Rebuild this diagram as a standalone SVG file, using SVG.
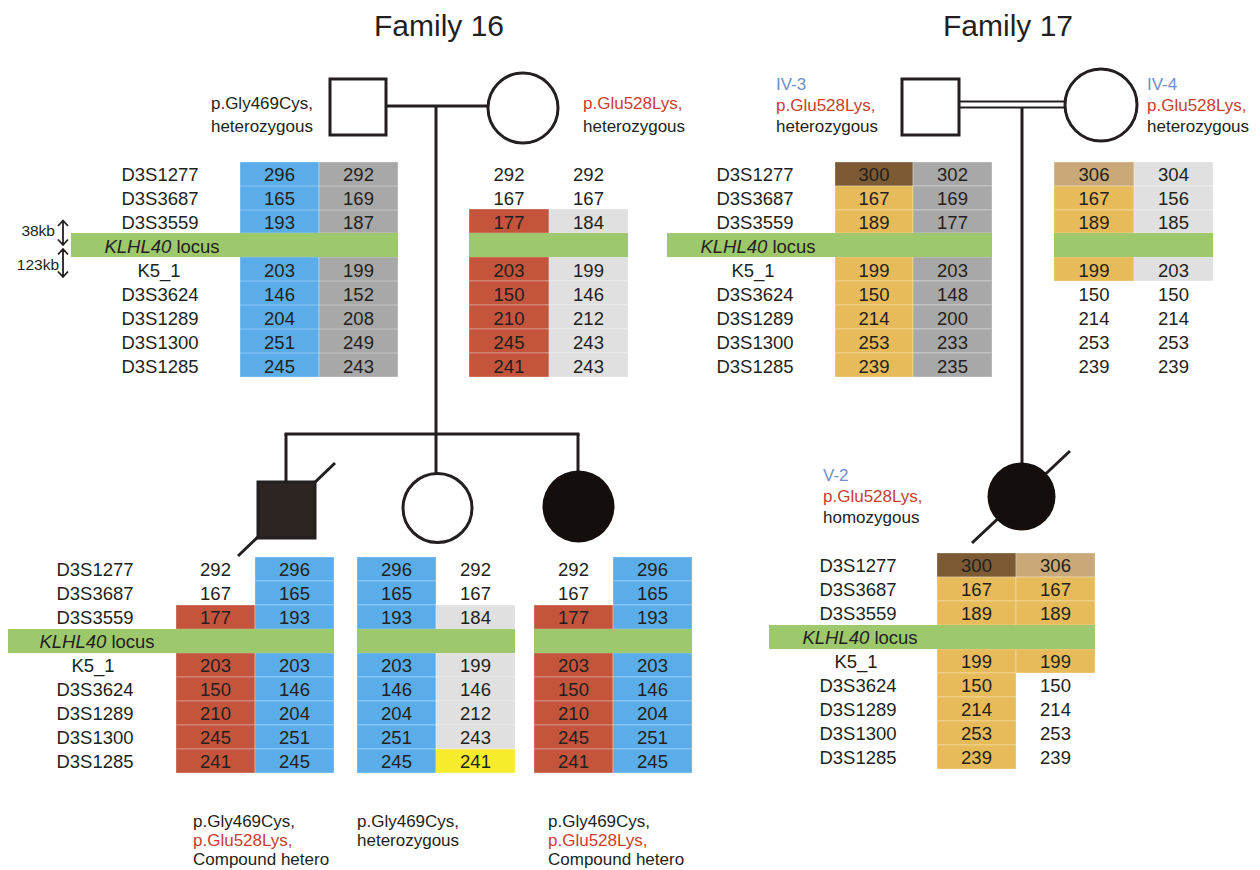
<svg xmlns="http://www.w3.org/2000/svg" width="1260" height="870" viewBox="0 0 1260 870">
<style>
text{font-family:"Liberation Sans",Arial,sans-serif;fill:#231f20}
.t{font-size:30px;text-anchor:middle}
.a{font-size:17px}
.r{fill:#c8402f}
.b{fill:#6f8fc8}
.lb{font-size:18.5px;text-anchor:middle}
.v{font-size:18.5px;text-anchor:middle}
.kb{font-size:15.5px;text-anchor:end}
.B{fill:#5badea}.G{fill:#a8a8a8}.L{fill:#e0e0e0}.R{fill:#c4543c}.Y{fill:#e8bb5a}.D{fill:#7b5a34}.T{fill:#c8a977}.W{fill:#f7ec2c}
.g{fill:#9ec86c}
rect.c{stroke:#ffffff;stroke-opacity:.3;stroke-width:1}
.ln{stroke:#231f20;stroke-width:3;fill:none}
.sym{stroke:#231f20;stroke-width:3}
.ar{stroke:#231f20;stroke-width:1.8;fill:none}
</style>

<text class="t" x="439" y="36">Family 16</text>
<text class="t" x="1008" y="36">Family 17</text>

<g id="connectors">
<line class="ln" x1="386" y1="106" x2="488" y2="106"/>
<line class="ln" x1="436" y1="106" x2="436" y2="434"/>
<line class="ln" x1="284.5" y1="434" x2="579.5" y2="434"/>
<line class="ln" x1="286" y1="434" x2="286" y2="482"/>
<line class="ln" x1="436" y1="434" x2="436" y2="473"/>
<line class="ln" x1="578" y1="434" x2="578" y2="472"/>
<line stroke="#231f20" stroke-width="2.2" x1="959" y1="101.5" x2="1066" y2="101.5"/>
<line stroke="#231f20" stroke-width="2.2" x1="959" y1="107.5" x2="1066" y2="107.5"/>
<line class="ln" x1="1022" y1="107" x2="1022" y2="464"/>
</g>

<g id="f16-father">
<rect class="sym" x="330" y="79" width="56" height="56" fill="#fff"/>
<text class="a" x="313" y="109" text-anchor="end">p.Gly469Cys,</text>
<text class="a" x="313" y="132" text-anchor="end">heterozygous</text>
</g>
<g id="f16-mother">
<circle class="sym" cx="523" cy="108" r="35" fill="#fff"/>
<text class="a r" x="583" y="109">p.Glu528Lys,</text>
<text class="a" x="583" y="132">heterozygous</text>
</g>
<g id="f16-son">
<line class="ln" x1="238" y1="556" x2="335" y2="463"/>
<rect class="sym" x="258" y="482" width="57" height="56" fill="#2d2521"/>
</g>
<g id="f16-daughter">
<circle class="sym" cx="437.5" cy="508" r="34.5" fill="#fff"/>
</g>
<g id="f16-affected-daughter">
<circle cx="578.5" cy="506.5" r="36" fill="#140f0d"/>
</g>
<g id="f17-father">
<rect class="sym" x="902" y="79" width="57" height="56" fill="#fff"/>
<text class="a b" x="776" y="90">IV-3</text>
<text class="a r" x="776" y="111">p.Glu528Lys,</text>
<text class="a" x="776" y="132">heterozygous</text>
</g>
<g id="f17-mother">
<circle class="sym" cx="1101" cy="105" r="36" fill="#fff"/>
<text class="a b" x="1147" y="90">IV-4</text>
<text class="a r" x="1147" y="111">p.Glu528Lys,</text>
<text class="a" x="1147" y="132">heterozygous</text>
</g>
<g id="f17-child">
<line class="ln" x1="972" y1="543" x2="1070" y2="451"/>
<circle cx="1021.5" cy="496.5" r="34" fill="#140f0d"/>
<text class="a b" x="823" y="481">V-2</text>
<text class="a r" x="823" y="502">p.Glu528Lys,</text>
<text class="a" x="823" y="523">homozygous</text>
</g>

<g id="distances">
<text class="kb" x="55" y="236">38kb</text>
<text class="kb" x="59" y="270">123kb</text>
<path class="ar" d="M63,221 V245 M58,226 L63,220.5 L68,226 M58,239.5 L63,245 L68,239.5"/>
<path class="ar" d="M63,249 V277 M58,254.5 L63,249 L68,254.5 M58,271.5 L63,277 L68,271.5"/>
</g>

<g id="t-f16-father">
<rect class="c B" x="240" y="162" width="79" height="71"/><rect class="c G" x="319" y="162" width="79" height="71"/>
<rect class="c B" x="240" y="257" width="79" height="120"/><rect class="c G" x="319" y="257" width="79" height="120"/>
<line x1="240" x2="398" y1="186" y2="186" stroke="#fff" stroke-opacity=".3"/><line x1="240" x2="398" y1="210" y2="210" stroke="#fff" stroke-opacity=".3"/>
<line x1="240" x2="398" y1="281" y2="281" stroke="#fff" stroke-opacity=".3"/><line x1="240" x2="398" y1="305" y2="305" stroke="#fff" stroke-opacity=".3"/><line x1="240" x2="398" y1="329" y2="329" stroke="#fff" stroke-opacity=".3"/><line x1="240" x2="398" y1="353" y2="353" stroke="#fff" stroke-opacity=".3"/>
<rect class="g" x="71" y="233" width="327" height="24"/>
<text class="lb" x="160" y="180.5">D3S1277</text><text class="lb" x="160" y="204.5">D3S3687</text><text class="lb" x="160" y="228.5">D3S3559</text>
<text class="lb" x="162" y="252.5"><tspan font-style="italic">KLHL40</tspan> locus</text>
<text class="lb" x="159" y="276.5">K5_1</text><text class="lb" x="160" y="300.5">D3S3624</text><text class="lb" x="160" y="324.5">D3S1289</text><text class="lb" x="160" y="348.5">D3S1300</text><text class="lb" x="160" y="372.5">D3S1285</text>
<text class="v" x="279.5" y="180.5">296</text><text class="v" x="358.5" y="180.5">292</text>
<text class="v" x="279.5" y="204.5">165</text><text class="v" x="358.5" y="204.5">169</text>
<text class="v" x="279.5" y="228.5">193</text><text class="v" x="358.5" y="228.5">187</text>
<text class="v" x="279.5" y="276.5">203</text><text class="v" x="358.5" y="276.5">199</text>
<text class="v" x="279.5" y="300.5">146</text><text class="v" x="358.5" y="300.5">152</text>
<text class="v" x="279.5" y="324.5">204</text><text class="v" x="358.5" y="324.5">208</text>
<text class="v" x="279.5" y="348.5">251</text><text class="v" x="358.5" y="348.5">249</text>
<text class="v" x="279.5" y="372.5">245</text><text class="v" x="358.5" y="372.5">243</text>
</g>

<g id="t-f16-mother">
<rect class="c R" x="469" y="209" width="80" height="24"/><rect class="c L" x="549" y="209" width="79" height="24"/>
<rect class="c R" x="469" y="257" width="80" height="24"/><rect class="c L" x="549" y="257" width="79" height="24"/>
<rect class="c R" x="469" y="281" width="80" height="24"/><rect class="c L" x="549" y="281" width="79" height="24"/>
<rect class="c R" x="469" y="305" width="80" height="24"/><rect class="c L" x="549" y="305" width="79" height="24"/>
<rect class="c R" x="469" y="329" width="80" height="24"/><rect class="c L" x="549" y="329" width="79" height="24"/>
<rect class="c R" x="469" y="353" width="80" height="24"/><rect class="c L" x="549" y="353" width="79" height="24"/>
<rect class="g" x="469" y="233" width="159" height="24"/>
<text class="v" x="509" y="180.5">292</text><text class="v" x="588.5" y="180.5">292</text>
<text class="v" x="509" y="204.5">167</text><text class="v" x="588.5" y="204.5">167</text>
<text class="v" x="509" y="228.5">177</text><text class="v" x="588.5" y="228.5">184</text>
<text class="v" x="509" y="276.5">203</text><text class="v" x="588.5" y="276.5">199</text>
<text class="v" x="509" y="300.5">150</text><text class="v" x="588.5" y="300.5">146</text>
<text class="v" x="509" y="324.5">210</text><text class="v" x="588.5" y="324.5">212</text>
<text class="v" x="509" y="348.5">245</text><text class="v" x="588.5" y="348.5">243</text>
<text class="v" x="509" y="372.5">241</text><text class="v" x="588.5" y="372.5">243</text>
</g>

<g id="t-f17-father">
<rect class="c D" x="835" y="162" width="78" height="24"/><rect class="c G" x="913" y="162" width="79" height="24"/>
<rect class="c Y" x="835" y="186" width="78" height="24"/><rect class="c G" x="913" y="186" width="79" height="24"/>
<rect class="c Y" x="835" y="210" width="78" height="23"/><rect class="c G" x="913" y="210" width="79" height="23"/>
<rect class="c Y" x="835" y="257" width="78" height="24"/><rect class="c G" x="913" y="257" width="79" height="24"/>
<rect class="c Y" x="835" y="281" width="78" height="24"/><rect class="c G" x="913" y="281" width="79" height="24"/>
<rect class="c Y" x="835" y="305" width="78" height="24"/><rect class="c G" x="913" y="305" width="79" height="24"/>
<rect class="c Y" x="835" y="329" width="78" height="24"/><rect class="c G" x="913" y="329" width="79" height="24"/>
<rect class="c Y" x="835" y="353" width="78" height="24"/><rect class="c G" x="913" y="353" width="79" height="24"/>
<rect class="g" x="667" y="233" width="325" height="24"/>
<text class="lb" x="755" y="180.5">D3S1277</text><text class="lb" x="755" y="204.5">D3S3687</text><text class="lb" x="755" y="228.5">D3S3559</text>
<text class="lb" x="758" y="252.5"><tspan font-style="italic">KLHL40</tspan> locus</text>
<text class="lb" x="753" y="276.5">K5_1</text><text class="lb" x="755" y="300.5">D3S3624</text><text class="lb" x="755" y="324.5">D3S1289</text><text class="lb" x="755" y="348.5">D3S1300</text><text class="lb" x="755" y="372.5">D3S1285</text>
<text class="v" x="874" y="180.5">300</text><text class="v" x="952.5" y="180.5">302</text>
<text class="v" x="874" y="204.5">167</text><text class="v" x="952.5" y="204.5">169</text>
<text class="v" x="874" y="228.5">189</text><text class="v" x="952.5" y="228.5">177</text>
<text class="v" x="874" y="276.5">199</text><text class="v" x="952.5" y="276.5">203</text>
<text class="v" x="874" y="300.5">150</text><text class="v" x="952.5" y="300.5">148</text>
<text class="v" x="874" y="324.5">214</text><text class="v" x="952.5" y="324.5">200</text>
<text class="v" x="874" y="348.5">253</text><text class="v" x="952.5" y="348.5">233</text>
<text class="v" x="874" y="372.5">239</text><text class="v" x="952.5" y="372.5">235</text>
</g>

<g id="t-f17-mother">
<rect class="c T" x="1054" y="162" width="80" height="24"/><rect class="c L" x="1134" y="162" width="79" height="24"/>
<rect class="c Y" x="1054" y="186" width="80" height="24"/><rect class="c L" x="1134" y="186" width="79" height="24"/>
<rect class="c Y" x="1054" y="210" width="80" height="23"/><rect class="c L" x="1134" y="210" width="79" height="23"/>
<rect class="c Y" x="1054" y="257" width="80" height="24"/><rect class="c L" x="1134" y="257" width="79" height="24"/>
<rect class="g" x="1054" y="233" width="159" height="24"/>
<text class="v" x="1094" y="180.5">306</text><text class="v" x="1173.5" y="180.5">304</text>
<text class="v" x="1094" y="204.5">167</text><text class="v" x="1173.5" y="204.5">156</text>
<text class="v" x="1094" y="228.5">189</text><text class="v" x="1173.5" y="228.5">185</text>
<text class="v" x="1094" y="276.5">199</text><text class="v" x="1173.5" y="276.5">203</text>
<text class="v" x="1094" y="300.5">150</text><text class="v" x="1173.5" y="300.5">150</text>
<text class="v" x="1094" y="324.5">214</text><text class="v" x="1173.5" y="324.5">214</text>
<text class="v" x="1094" y="348.5">253</text><text class="v" x="1173.5" y="348.5">253</text>
<text class="v" x="1094" y="372.5">239</text><text class="v" x="1173.5" y="372.5">239</text>
</g>

<g id="t-f16-son">
<rect class="c B" x="255" y="557" width="79" height="24"/>
<rect class="c B" x="255" y="581" width="79" height="24"/>
<rect class="c R" x="176" y="605" width="79" height="24"/><rect class="c B" x="255" y="605" width="79" height="24"/>
<rect class="c R" x="176" y="653" width="79" height="24"/><rect class="c B" x="255" y="653" width="79" height="24"/>
<rect class="c R" x="176" y="677" width="79" height="24"/><rect class="c B" x="255" y="677" width="79" height="24"/>
<rect class="c R" x="176" y="701" width="79" height="24"/><rect class="c B" x="255" y="701" width="79" height="24"/>
<rect class="c R" x="176" y="725" width="79" height="24"/><rect class="c B" x="255" y="725" width="79" height="24"/>
<rect class="c R" x="176" y="749" width="79" height="24"/><rect class="c B" x="255" y="749" width="79" height="24"/>
<rect class="g" x="8" y="629" width="326" height="24"/>
<text class="lb" x="95" y="575.5">D3S1277</text><text class="lb" x="95" y="599.5">D3S3687</text><text class="lb" x="95" y="623.5">D3S3559</text>
<text class="lb" x="97" y="647.5"><tspan font-style="italic">KLHL40</tspan> locus</text>
<text class="lb" x="93" y="671.5">K5_1</text><text class="lb" x="95" y="695.5">D3S3624</text><text class="lb" x="95" y="719.5">D3S1289</text><text class="lb" x="95" y="743.5">D3S1300</text><text class="lb" x="95" y="767.5">D3S1285</text>
<text class="v" x="215.5" y="575.5">292</text><text class="v" x="294.5" y="575.5">296</text>
<text class="v" x="215.5" y="599.5">167</text><text class="v" x="294.5" y="599.5">165</text>
<text class="v" x="215.5" y="623.5">177</text><text class="v" x="294.5" y="623.5">193</text>
<text class="v" x="215.5" y="671.5">203</text><text class="v" x="294.5" y="671.5">203</text>
<text class="v" x="215.5" y="695.5">150</text><text class="v" x="294.5" y="695.5">146</text>
<text class="v" x="215.5" y="719.5">210</text><text class="v" x="294.5" y="719.5">204</text>
<text class="v" x="215.5" y="743.5">245</text><text class="v" x="294.5" y="743.5">251</text>
<text class="v" x="215.5" y="767.5">241</text><text class="v" x="294.5" y="767.5">245</text>
</g>

<g id="t-f16-daughter">
<rect class="c B" x="357" y="557" width="79" height="24"/>
<rect class="c B" x="357" y="581" width="79" height="24"/>
<rect class="c B" x="357" y="605" width="79" height="24"/><rect class="c L" x="436" y="605" width="79" height="24"/>
<rect class="c B" x="357" y="653" width="79" height="24"/><rect class="c L" x="436" y="653" width="79" height="24"/>
<rect class="c B" x="357" y="677" width="79" height="24"/><rect class="c L" x="436" y="677" width="79" height="24"/>
<rect class="c B" x="357" y="701" width="79" height="24"/><rect class="c L" x="436" y="701" width="79" height="24"/>
<rect class="c B" x="357" y="725" width="79" height="24"/><rect class="c L" x="436" y="725" width="79" height="24"/>
<rect class="c B" x="357" y="749" width="79" height="24"/><rect class="c W" x="436" y="749" width="79" height="24"/>
<rect class="g" x="357" y="629" width="158" height="24"/>
<text class="v" x="396.5" y="575.5">296</text><text class="v" x="475.5" y="575.5">292</text>
<text class="v" x="396.5" y="599.5">165</text><text class="v" x="475.5" y="599.5">167</text>
<text class="v" x="396.5" y="623.5">193</text><text class="v" x="475.5" y="623.5">184</text>
<text class="v" x="396.5" y="671.5">203</text><text class="v" x="475.5" y="671.5">199</text>
<text class="v" x="396.5" y="695.5">146</text><text class="v" x="475.5" y="695.5">146</text>
<text class="v" x="396.5" y="719.5">204</text><text class="v" x="475.5" y="719.5">212</text>
<text class="v" x="396.5" y="743.5">251</text><text class="v" x="475.5" y="743.5">243</text>
<text class="v" x="396.5" y="767.5">245</text><text class="v" x="475.5" y="767.5">241</text>
</g>

<g id="t-f16-affected">
<rect class="c B" x="613" y="557" width="79" height="24"/>
<rect class="c B" x="613" y="581" width="79" height="24"/>
<rect class="c R" x="534" y="605" width="79" height="24"/><rect class="c B" x="613" y="605" width="79" height="24"/>
<rect class="c R" x="534" y="653" width="79" height="24"/><rect class="c B" x="613" y="653" width="79" height="24"/>
<rect class="c R" x="534" y="677" width="79" height="24"/><rect class="c B" x="613" y="677" width="79" height="24"/>
<rect class="c R" x="534" y="701" width="79" height="24"/><rect class="c B" x="613" y="701" width="79" height="24"/>
<rect class="c R" x="534" y="725" width="79" height="24"/><rect class="c B" x="613" y="725" width="79" height="24"/>
<rect class="c R" x="534" y="749" width="79" height="24"/><rect class="c B" x="613" y="749" width="79" height="24"/>
<rect class="g" x="534" y="629" width="158" height="24"/>
<text class="v" x="573.5" y="575.5">292</text><text class="v" x="652.5" y="575.5">296</text>
<text class="v" x="573.5" y="599.5">167</text><text class="v" x="652.5" y="599.5">165</text>
<text class="v" x="573.5" y="623.5">177</text><text class="v" x="652.5" y="623.5">193</text>
<text class="v" x="573.5" y="671.5">203</text><text class="v" x="652.5" y="671.5">203</text>
<text class="v" x="573.5" y="695.5">150</text><text class="v" x="652.5" y="695.5">146</text>
<text class="v" x="573.5" y="719.5">210</text><text class="v" x="652.5" y="719.5">204</text>
<text class="v" x="573.5" y="743.5">245</text><text class="v" x="652.5" y="743.5">251</text>
<text class="v" x="573.5" y="767.5">241</text><text class="v" x="652.5" y="767.5">245</text>
</g>

<g id="t-f17-child">
<rect class="c D" x="937" y="553" width="79" height="24"/><rect class="c T" x="1016" y="553" width="79" height="24"/>
<rect class="c Y" x="937" y="577" width="79" height="24"/><rect class="c Y" x="1016" y="577" width="79" height="24"/>
<rect class="c Y" x="937" y="601" width="79" height="24"/><rect class="c Y" x="1016" y="601" width="79" height="24"/>
<rect class="c Y" x="937" y="649" width="79" height="24"/><rect class="c Y" x="1016" y="649" width="79" height="24"/>
<rect class="c Y" x="937" y="673" width="79" height="24"/>
<rect class="c Y" x="937" y="697" width="79" height="24"/>
<rect class="c Y" x="937" y="721" width="79" height="24"/>
<rect class="c Y" x="937" y="745" width="79" height="24"/>
<rect class="g" x="769" y="625" width="326" height="24"/>
<text class="lb" x="858" y="571.5">D3S1277</text><text class="lb" x="858" y="595.5">D3S3687</text><text class="lb" x="858" y="619.5">D3S3559</text>
<text class="lb" x="860" y="643.5"><tspan font-style="italic">KLHL40</tspan> locus</text>
<text class="lb" x="856" y="667.5">K5_1</text><text class="lb" x="858" y="691.5">D3S3624</text><text class="lb" x="858" y="715.5">D3S1289</text><text class="lb" x="858" y="739.5">D3S1300</text><text class="lb" x="858" y="763.5">D3S1285</text>
<text class="v" x="976.5" y="571.5">300</text><text class="v" x="1055.5" y="571.5">306</text>
<text class="v" x="976.5" y="595.5">167</text><text class="v" x="1055.5" y="595.5">167</text>
<text class="v" x="976.5" y="619.5">189</text><text class="v" x="1055.5" y="619.5">189</text>
<text class="v" x="976.5" y="667.5">199</text><text class="v" x="1055.5" y="667.5">199</text>
<text class="v" x="976.5" y="691.5">150</text><text class="v" x="1055.5" y="691.5">150</text>
<text class="v" x="976.5" y="715.5">214</text><text class="v" x="1055.5" y="715.5">214</text>
<text class="v" x="976.5" y="739.5">253</text><text class="v" x="1055.5" y="739.5">253</text>
<text class="v" x="976.5" y="763.5">239</text><text class="v" x="1055.5" y="763.5">239</text>
</g>

<g id="f16-child-notes">
<text class="a" x="193" y="827">p.Gly469Cys,</text>
<text class="a r" x="193" y="846">p.Glu528Lys,</text>
<text class="a" x="193" y="865">Compound hetero</text>
<text class="a" x="357" y="827">p.Gly469Cys,</text>
<text class="a" x="357" y="846">heterozygous</text>
<text class="a" x="548" y="827">p.Gly469Cys,</text>
<text class="a r" x="548" y="846">p.Glu528Lys,</text>
<text class="a" x="548" y="865">Compound hetero</text>
</g>
</svg>
